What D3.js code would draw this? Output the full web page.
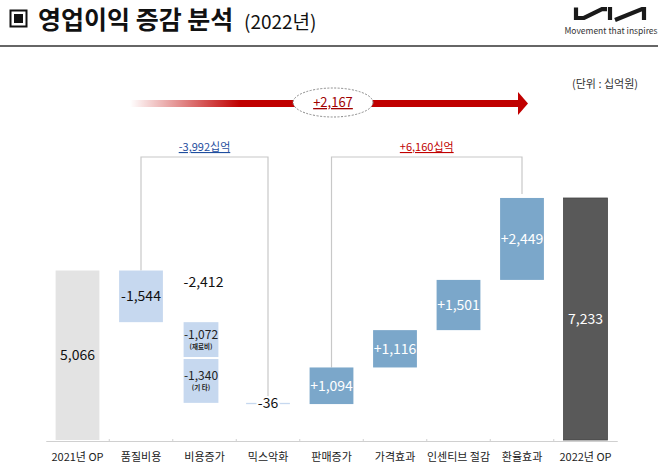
<!DOCTYPE html>
<html>
<head>
<meta charset="utf-8">
<script src="https://cdn.jsdelivr.net/npm/d3@7.9.0/dist/d3.min.js"></script>
<style>
  body { margin: 0; background: #fff; }
  svg { font-family: 'Noto Sans CJK KR', 'Noto Sans', sans-serif; display: block; }
</style>
</head>
<body>
<svg id="chart" width="658" height="476"></svg>
<script>
// chart values (십억원)
const categories = ['2021년 OP', '품질비용', '비용증가', '믹스악화', '판매증가', '가격효과', '인센티브 절감', '환율효과', '2022년 OP'];
const values = [5066, -1544, -2412, -36, 1094, 1116, 1501, 2449, 7233];
const valueLabels = ['5,066', '-1,544', '-2,412', '-36', '+1,094', '+1,116', '+1,501', '+2,449', '7,233'];
const costSplitValues = [-1072, -1340];
const costSplitLabels = ['-1,072', '-1,340'];
const costSplitNotes = ['(재료비)', '(기 타)'];
const brackets = [
  { from: 1, to: 3, label: '-3,992십억', color: '#1f4e9e' },
  { from: 4, to: 7, label: '+6,160십억', color: '#c00000' }
];
const totalChange = '+2,167';

const svg = d3.select('#chart');

// header
svg.append('rect').attr('x', 10.5).attr('y', 10.5).attr('width', 16).attr('height', 16)
  .attr('fill', 'none').attr('stroke', '#111').attr('stroke-width', 2);
svg.append('rect').attr('x', 14).attr('y', 14).attr('width', 9).attr('height', 9).attr('fill', '#111');
svg.append('text').attr('x', 38).attr('y', 29).attr('font-size', 25).attr('font-weight', 700)
  .attr('fill', '#111').text('영업이익 증감 분석');
svg.append('text').attr('x', 244).attr('y', 29).attr('font-size', 19)
  .attr('fill', '#111').text('(2022년)');
svg.append('line').attr('x1', 0).attr('x2', 658).attr('y1', 46).attr('y2', 46)
  .attr('stroke', '#333').attr('stroke-width', 1.5);

// logo
const logo = svg.append('g').attr('transform', 'translate(574,7)')
  .attr('fill', 'none').attr('stroke', '#1a1a1a').attr('stroke-width', 4.2)
  .attr('stroke-linejoin', 'miter').attr('stroke-linecap', 'butt');
logo.append('path').attr('d', 'M2,13 V0.5 M2,11 L10,11 L28,2.1 H33');
logo.append('path').attr('d', 'M36,0 V13');
logo.append('path').attr('d', 'M41,13 L68,2.1 H70 V13');
svg.append('text').attr('x', 611).attr('y', 34).attr('text-anchor', 'middle')
  .attr('font-size', 8.5).attr('fill', '#333').text('Movement that inspires');

svg.append('text').attr('x', 605).attr('y', 88).attr('text-anchor', 'middle')
  .attr('font-size', 11).attr('fill', '#333').text('(단위 : 십억원)');

// scales
const x = d3.scaleBand().domain(categories).range([45.75, 617.25])
  .paddingInner(0.31).paddingOuter(0.155);
const y = d3.scaleLinear().domain([0, 7233]).range([440, 198]);
const bw = x.bandwidth();

// waterfall segments
let running = 0;
const bars = values.map((v, i) => {
  let y0, y1;
  if (i === 0 || i === values.length - 1) { y0 = 0; y1 = v; running = v; }
  else { y0 = running; y1 = running + v; running = y1; }
  return { cat: categories[i], v, y0, y1, label: valueLabels[i], i };
});

function fillFor(d) {
  if (d.i === 0) return '#e3e3e3';
  if (d.i === values.length - 1) return '#595959';
  return d.v < 0 ? '#c6d8ef' : '#7ba7ca';
}

// brackets
brackets.forEach(b => {
  const xa = x(categories[b.from]) + bw / 2;
  const xb = x(categories[b.to]) + bw / 2;
  const top = 157;
  const ya = y(Math.max(bars[b.from].y0, bars[b.from].y1));
  const yb = y(Math.max(bars[b.to].y0, bars[b.to].y1)) - 4;
  svg.append('path')
    .attr('d', `M${xa},${ya} V${top} H${xb} V${yb}`)
    .attr('fill', 'none').attr('stroke', '#c8c8c8').attr('stroke-width', 1.2);
  svg.append('text').attr('x', (xa + xb) / 2).attr('y', 151).attr('text-anchor', 'middle')
    .attr('font-size', 11).attr('fill', b.color).attr('text-decoration', 'underline')
    .text(b.label);
});

// bars (except split one)
svg.selectAll('rect.bar')
  .data(bars.filter(d => d.i !== 2))
  .join('rect')
  .attr('class', 'bar')
  .attr('x', d => x(d.cat))
  .attr('y', d => y(Math.max(d.y0, d.y1)))
  .attr('width', bw)
  .attr('height', d => Math.max(1.3, Math.abs(y(d.y0) - y(d.y1))))
  .attr('fill', fillFor)
  .attr('stroke', d => d.i === values.length - 1 ? '#444' : 'none')
  .attr('stroke-width', 0.8);

// 비용증가 split boxes
const splitBar = bars[2];
let splitStart = splitBar.y0;
costSplitValues.forEach((v, k) => {
  const top = y(splitStart) + (k > 0 ? 1 : 0);
  const bottom = y(splitStart + v) - (k === 0 ? 1 : 0);
  const bx = x(splitBar.cat) + 1;
  const w = bw - 9;
  svg.append('rect').attr('x', bx).attr('y', top).attr('width', w).attr('height', bottom - top)
    .attr('fill', '#c6d8ef');
  const cy = (top + bottom) / 2;
  svg.append('text').attr('x', bx + w / 2).attr('y', cy - 1).attr('text-anchor', 'middle')
    .attr('font-size', 12).attr('fill', '#222').text(costSplitLabels[k]);
  svg.append('text').attr('x', bx + w / 2).attr('y', cy + 9.5).attr('text-anchor', 'middle')
    .attr('font-size', 6.5).attr('font-weight', 700).attr('fill', '#222').text(costSplitNotes[k]);
  splitStart += v;
});
svg.append('text').attr('x', x(splitBar.cat) + bw / 2 - 1).attr('y', y(splitBar.y0) - 35)
  .attr('text-anchor', 'middle').attr('font-size', 14).attr('fill', '#111').text(splitBar.label);

// value labels
svg.selectAll('text.val')
  .data(bars.filter(d => d.i !== 2))
  .join('text')
  .attr('class', 'val')
  .attr('x', d => x(d.cat) + bw / 2)
  .attr('y', d => (y(d.y0) + y(d.y1)) / 2 + 5)
  .attr('text-anchor', 'middle')
  .attr('font-size', 14)
  .attr('fill', d => (d.v > 0 && d.i !== 0) ? '#fff' : '#111')
  .attr('stroke', d => d.i === 3 ? '#fff' : 'none')
  .attr('stroke-width', 4)
  .attr('paint-order', 'stroke')
  .text(d => d.label);

// axis
const axis = svg.append('g').attr('transform', 'translate(0,441)')
  .call(d3.axisBottom(x).tickSize(0).tickPadding(12));
axis.select('.domain').attr('stroke', '#d0d0d0');
axis.selectAll('text').attr('font-size', 11).attr('fill', '#222')
  .attr('font-family', "'Noto Sans CJK KR', sans-serif");
axis.selectAll('line.sep')
  .data(categories.slice(1))
  .join('line')
  .attr('class', 'sep')
  .attr('x1', d => x(d) - x.step() * x.paddingInner() / 2)
  .attr('x2', d => x(d) - x.step() * x.paddingInner() / 2)
  .attr('y1', -2).attr('y2', 0)
  .attr('stroke', '#d0d0d0');

// total change arrow
const defs = svg.append('defs');
const grad = defs.append('linearGradient').attr('id', 'arrowGrad')
  .attr('gradientUnits', 'userSpaceOnUse').attr('x1', 130).attr('x2', 240).attr('y1', 0).attr('y2', 0);
grad.append('stop').attr('offset', 0).attr('stop-color', '#c00000').attr('stop-opacity', 0);
grad.append('stop').attr('offset', 1).attr('stop-color', '#c00000').attr('stop-opacity', 1);
svg.append('rect').attr('x', 130).attr('y', 100).attr('width', 390).attr('height', 7)
  .attr('fill', 'url(#arrowGrad)');
svg.append('path').attr('d', 'M518,92 L528,103.5 L518,115 Z').attr('fill', '#c00000');
svg.append('ellipse').attr('cx', 333).attr('cy', 102.5).attr('rx', 40).attr('ry', 14.5)
  .attr('fill', '#fff').attr('stroke', '#8a8a8a').attr('stroke-width', 1)
  .attr('stroke-dasharray', '2,1.5');
svg.append('text').attr('x', 333).attr('y', 107).attr('text-anchor', 'middle')
  .attr('font-size', 13).attr('fill', '#a00000').attr('text-decoration', 'underline')
  .text(totalChange);
</script>
</body>
</html>
